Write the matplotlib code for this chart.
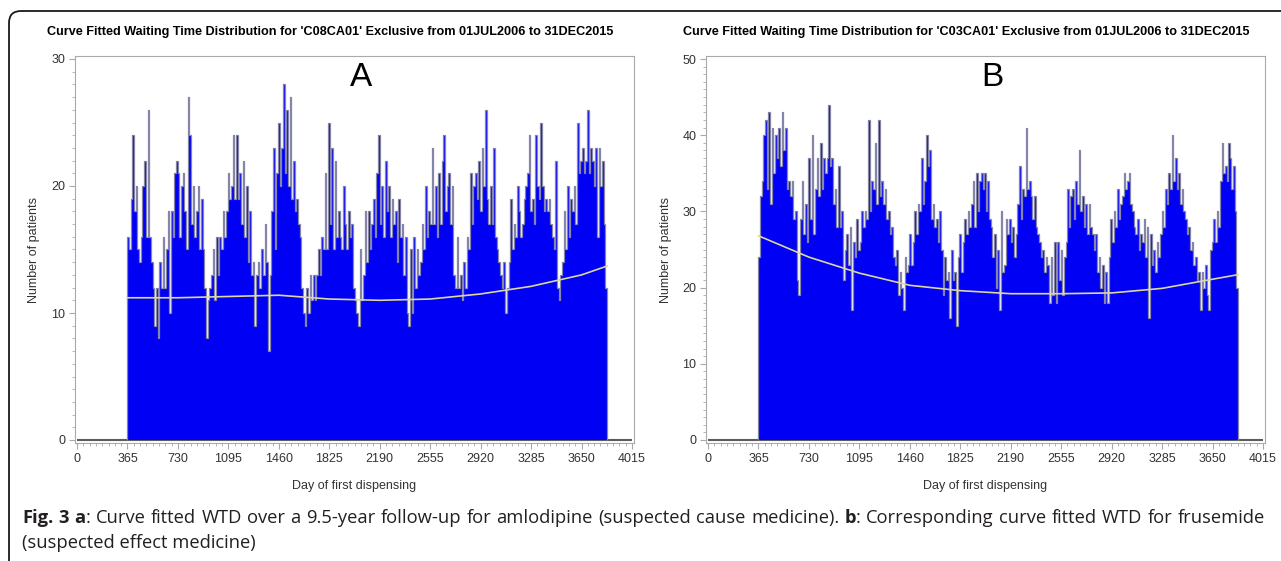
import numpy as np
import matplotlib.pyplot as plt
from matplotlib.patches import FancyBboxPatch
from matplotlib.transforms import IdentityTransform
from matplotlib.ticker import MultipleLocator

# Daily number of patients (one value per ~12 days),
# from day 365 (01JUL2006 + 1 year) to day 3835 (31DEC2015)
first_day = 365
last_day = 3835
axis_end = 4015

counts_a = [16, 15, 19, 24, 18, 20, 15, 14, 16, 20, 22, 16, 26,
            16, 14, 12, 9, 12, 8, 14, 12, 16, 12, 15, 18, 10, 18, 16,
            21, 22, 21, 16, 20, 21, 18, 15, 27, 24, 17, 20, 16, 18, 20,
            15, 19, 15, 12, 8, 11, 12, 13, 15, 11, 16, 13, 16, 15,
            18, 16, 18, 21, 19, 20, 24, 19, 24, 19, 21, 17, 22, 16, 20,
            14, 18, 13, 14, 9, 13, 14, 12, 15, 13, 17, 14, 7, 13,
            18, 23, 15, 21, 25, 20, 23, 28, 21, 26, 20, 27, 19, 22, 18,
            19, 17, 16, 12, 10, 9, 12, 10, 13, 11, 13, 11, 13, 15, 13,
            16, 15, 21, 15,
            25, 17, 23, 15, 22, 16, 18, 16, 15, 20, 17, 15, 18, 16, 17,
            12, 11, 10, 9, 15, 11, 13, 18, 14, 18, 15, 17, 19, 16, 21,
            24, 17, 20, 16, 22, 18, 20, 16, 19, 17, 18, 14, 19, 16, 17,
            13, 16, 10, 9, 15, 10, 16, 12, 15, 13, 14, 17, 15, 20, 16,
            18, 17, 23, 17, 20, 16, 21, 17, 22, 24, 18, 20, 21, 17, 20,
            13, 12, 16, 12, 13, 11, 14, 12, 16, 15, 21, 17, 20, 21, 19,
            22, 18, 23, 20, 26, 19, 17, 20, 17, 23, 16, 15, 14, 13, 12,
            14, 10, 12, 14, 19, 15, 17, 16, 20, 18, 16, 17, 19, 20, 21,
            24, 18, 19, 17, 24, 20, 19, 25, 20, 18, 19, 18, 19, 17, 16,
            15, 22, 12, 11, 13, 14, 18, 15, 20, 16, 19, 18, 20, 17, 25,
            21, 22, 23, 21, 22, 26, 21, 23, 22, 20, 23, 16, 23, 20, 22,
            17, 12]

counts_b = [24, 32, 34, 40, 42, 33, 43, 31, 41, 35, 40, 37, 41, 36, 43,
            38, 41, 33, 34, 32, 34, 29, 30, 21, 19, 29, 34, 27, 31, 26,
            37, 29, 40, 27, 33, 37, 32, 39, 33, 37, 35, 37, 44, 36, 37,
            31, 33, 28, 36, 28, 30, 21, 25, 27, 23, 28, 17, 26, 24, 29,
            25, 26, 30, 28, 30, 29, 42, 30, 34, 33, 39, 31, 42, 32, 34,
            31, 33, 29, 30, 27, 28, 24, 23, 25, 19, 22, 20, 17, 24, 22,
            23, 27, 23, 26, 30, 27, 31, 30, 37, 31, 34, 40, 36, 38, 29,
            31, 28, 29, 26, 30, 25, 19, 24, 21, 22, 16, 25, 21, 22, 15,
            24, 27, 22, 26, 29, 27, 30, 28,
            31, 34, 28, 35, 30, 34, 35, 33, 35, 30, 34, 29, 28, 24, 27,
            20, 25, 17, 30, 22, 23, 29, 27, 29, 26, 28, 24, 27, 31, 36,
            29, 33, 32, 41, 33, 34, 32, 29, 32, 28, 27, 26, 24, 25, 22,
            24, 23, 18, 24, 19, 26, 18, 26, 21, 25, 19, 24, 26, 33, 28,
            32, 33, 29, 34, 31, 38, 30, 32, 28, 31, 27, 31, 28, 27, 25,
            27, 22, 24, 20, 23, 18, 22, 18, 24, 29, 26, 30, 28, 33, 29,
            31, 32, 35, 33, 34, 35, 31, 30, 28, 27, 29, 25, 27, 26, 29,
            24, 28, 16, 27, 23, 25, 22, 26, 24, 27, 30, 28, 33, 31, 35,
            33, 40, 34, 37, 33, 35, 31, 33, 30, 29, 27, 28, 25, 26, 23,
            24, 21, 22, 17, 22, 20, 23, 19, 17, 25, 26, 29, 26, 30, 28,
            34, 39, 35, 36, 34, 39, 37, 33, 36, 30, 20]

# fitted curves (values read at the tick positions)
fit_days = [365, 730, 1095, 1460, 1825, 2190, 2555, 2920, 3285, 3650, 3835]
fit_a = [11.2, 11.2, 11.3, 11.4, 11.1, 11.0, 11.1, 11.5, 12.1, 13.0, 13.7]
fit_b = [26.8, 24.0, 21.9, 20.3, 19.6, 19.2, 19.2, 19.3, 19.9, 21.1, 21.7]

x_ticks = list(range(0, axis_end + 1, 365))

title_a = "Curve Fitted Waiting Time Distribution for 'C08CA01' Exclusive from 01JUL2006 to 31DEC2015"
title_b = "Curve Fitted Waiting Time Distribution for 'C03CA01' Exclusive from 01JUL2006 to 31DEC2015"

W, H = 1281, 561
BLUE = '#0000f4'
EDGE = '#8585aa'
FIT = '#dcd6a0'
FRAME = '#a9a9a9'
TXT = '#333333'
SAS_FONT = 'Liberation Sans'

fig = plt.figure(figsize=(W / 100, H / 100), dpi=100)


def fig_xy(x, y):
    return x / W, 1 - y / H


def panel(left, right, counts, fit, ymax, ystep, letter, title, title_x, ylab_x):
    top, bottom = 56, 443
    ax = fig.add_axes([left / W, 1 - bottom / H, (right - left) / W, (bottom - top) / H])
    edges = np.linspace(first_day, last_day, len(counts) + 1)

    ax.hlines(0, 0, axis_end, color='#5c5c5c', lw=1.5, zorder=1)
    ax.stairs(counts, edges, fill=True, color=BLUE, lw=0, zorder=2)
    ax.stairs(counts, edges, color=EDGE, lw=0.9, zorder=3)
    ax.plot(fit_days, fit, color=FIT, lw=1.2, zorder=4)

    # 2-3 px padding inside the frame like the SAS output
    ypad = ymax * 3 / 381
    xpad = axis_end * 2 / 555
    ax.set_ylim(-ypad, ymax + ypad)
    ax.set_xlim(-xpad, axis_end + xpad)

    ax.set_xticks(x_ticks)
    ax.xaxis.set_minor_locator(MultipleLocator(365 / 8))
    ax.set_yticks(np.arange(0, ymax + 1, ystep))
    ax.yaxis.set_minor_locator(MultipleLocator(1))
    ax.tick_params(which='major', length=4, width=0.8, color=FRAME,
                   labelsize=9, labelcolor=TXT, pad=3)
    ax.tick_params(which='minor', length=2, width=0.6, color=FRAME)
    for lab in ax.get_xticklabels() + ax.get_yticklabels():
        lab.set_fontfamily(SAS_FONT)
    for sp in ax.spines.values():
        sp.set_color(FRAME)
        sp.set_linewidth(0.8)

    ax.text(0.512, 0.945, letter, transform=ax.transAxes, ha='center', va='center',
            fontsize=24, family=SAS_FONT, color='black')

    fig.text(*fig_xy(title_x, 32), title, ha='center', va='center',
             fontsize=9.1, fontweight='bold', family=SAS_FONT, color='black')
    fig.text(*fig_xy(ylab_x, 250), 'Number of patients', rotation=90,
             ha='center', va='center', fontsize=9, family=SAS_FONT, color=TXT)
    fig.text(*fig_xy((left + right) / 2, 486), 'Day of first dispensing',
             ha='center', va='center', fontsize=9, family=SAS_FONT, color=TXT)
    return ax


panel(75, 634, counts_a, fit_a, 30, 10, 'A', title_a, 330, 34)
panel(706, 1265, counts_b, fit_b, 50, 10, 'B', title_b, 966, 666)

# outer rounded frame of the figure panel
frame = FancyBboxPatch((9, -30), 1320, H - 11 + 30, boxstyle='round,pad=0,rounding_size=12',
                       transform=IdentityTransform(), fill=False, edgecolor='#1a1a1a', lw=1.3)
fig.add_artist(frame)

# caption, justified on the first line
cap_font = 'Open Sans'
line1 = [[('Fig.', 'bold')], [('3', 'bold')], [('a', 'bold'), (':', 'normal')]]
line1 += [[(w, 'normal')] for w in 'Curve fitted WTD over a 9.5-year follow-up for amlodipine '
          '(suspected cause medicine).'.split()]
line1 += [[('b', 'bold'), (':', 'normal')]]
line1 += [[(w, 'normal')] for w in 'Corresponding curve fitted WTD for frusemide'.split()]

renderer = fig.canvas.get_renderer()


def text_width(s, weight, size):
    t = fig.text(0, 0, s, fontsize=size, family=cap_font, fontweight=weight)
    w = t.get_window_extent(renderer).width
    t.remove()
    return w


cap_left, cap_right = 22, 1265
span = cap_right - cap_left


def natural_width(size):
    words = sum(text_width(s, wt, size) for word in line1 for s, wt in word)
    space = text_width('x x', 'normal', size) - text_width('xx', 'normal', size)
    return words + space * (len(line1) - 1)


# pick the size at which the first line fills the width with normal spacing
cap_size = 12 * span / natural_width(12) * 0.985
widths = [[text_width(s, wt, cap_size) for s, wt in word] for word in line1]
total = sum(sum(w) for w in widths)
gap = (span - total) / (len(line1) - 1)
x = cap_left
for word, ws in zip(line1, widths):
    for (s, wt), w in zip(word, ws):
        fig.text(*fig_xy(x, 518), s, fontsize=cap_size, family=cap_font, fontweight=wt,
                 ha='left', va='center', color='#231f20')
        x += w
    x += gap
fig.text(*fig_xy(cap_left, 543), '(suspected effect medicine)', fontsize=cap_size,
         family=cap_font, ha='left', va='center', color='#231f20')

fig.savefig('out.png', dpi=100)
